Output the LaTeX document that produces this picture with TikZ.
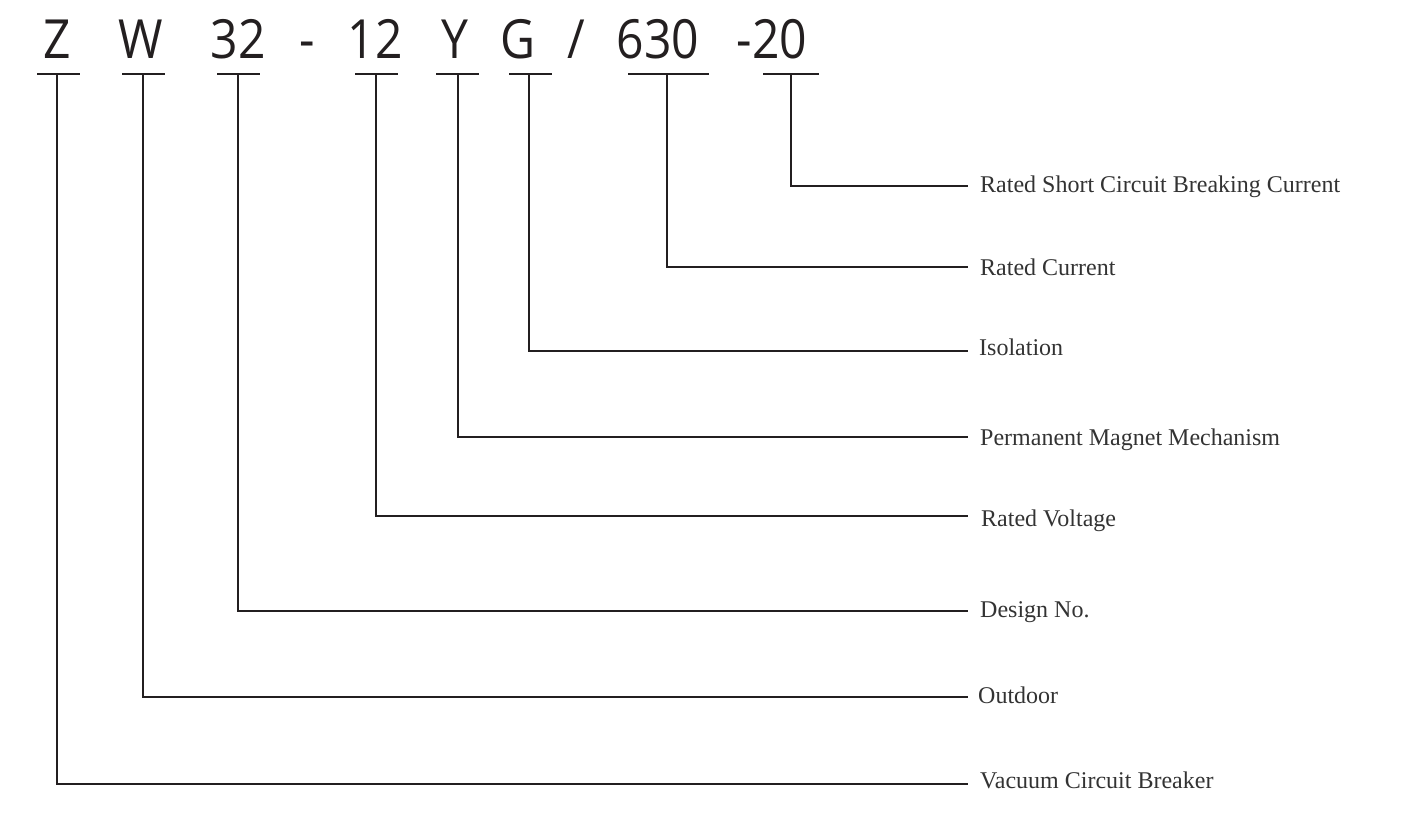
\documentclass[tikz,border=0pt]{standalone}
\usepackage{fontspec}
\setmainfont{Liberation Serif}
\newfontfamily\hdfont[FakeStretch=0.89]{Open Sans}
\definecolor{ink}{HTML}{231F20}
\definecolor{txt}{HTML}{333333}
\begin{document}
\begin{tikzpicture}[x=1pt,y=-1pt,
  hd/.style={anchor=base,inner sep=0pt,font=\hdfont\fontsize{54}{60}\selectfont,text=ink},
  lbl/.style={anchor=base west,inner sep=0pt,font=\fontsize{24}{28}\selectfont,text=txt},
  uline/.style={draw=ink,line width=2pt},
  lead/.style={draw=ink,line width=1.5pt}]
\useasboundingbox (0,0) rectangle (1420,820);
% header characters
\node[hd] (hZ) at (57,58) {Z};
\node[hd] (hW) at (141,58) {W};
\node[hd] (h32) at (238,58) {32};
\node[hd] (hdash) at (307,58) {-};
\node[hd] (h12) at (375,58) {12};
\node[hd] (hY) at (455,58) {Y};
\node[hd] (hG) at (518,58) {G};
\node[hd] (hsl) at (576,58) {/};
\node[hd] (h630) at (658,58) {630};
\node[hd] (h20) at (772,58) {-20};
% underlines
\draw[uline] (37,74) -- (80,74);
\draw[uline] (122,74) -- (165,74);
\draw[uline] (217,74) -- (260,74);
\draw[uline] (355,74) -- (398,74);
\draw[uline] (436,74) -- (479,74);
\draw[uline] (509,74) -- (552,74);
\draw[uline] (628,74) -- (709,74);
\draw[uline] (763,74) -- (819,74);
% stem tops
\coordinate (sZ) at (57,74);
\coordinate (sW) at (143,74);
\coordinate (s32) at (238,74);
\coordinate (s12) at (376,74);
\coordinate (sY) at (458,74);
\coordinate (sG) at (529,74);
\coordinate (s630) at (667,74);
\coordinate (s20) at (791,74);
% line ends
\coordinate (e20) at (968,186);
\coordinate (e630) at (968,267);
\coordinate (eG) at (968,351);
\coordinate (eY) at (968,437);
\coordinate (e12) at (968,516);
\coordinate (e32) at (968,611);
\coordinate (eW) at (968,697);
\coordinate (eZ) at (968,784);
% labels
\node[lbl] (l20) at (980,192) {Rated Short Circuit Breaking Current};
\node[lbl] (l630) at (980,275) {Rated Current};
\node[lbl] (lG) at (979,355) {Isolation};
\node[lbl] (lY) at (980,445) {Permanent Magnet Mechanism};
\node[lbl] (l12) at (981,526) {Rated Voltage};
\node[lbl] (l32) at (980,617) {Design No.};
\node[lbl] (lW) at (978,703) {Outdoor};
\node[lbl] (lZ) at (980,788) {Vacuum Circuit Breaker};
% leaders
\draw[lead] (s20) |- (e20);
\draw[lead] (s630) |- (e630);
\draw[lead] (sG) |- (eG);
\draw[lead] (sY) |- (eY);
\draw[lead] (s12) |- (e12);
\draw[lead] (s32) |- (e32);
\draw[lead] (sW) |- (eW);
\draw[lead] (sZ) |- (eZ);
\end{tikzpicture}
\end{document}
